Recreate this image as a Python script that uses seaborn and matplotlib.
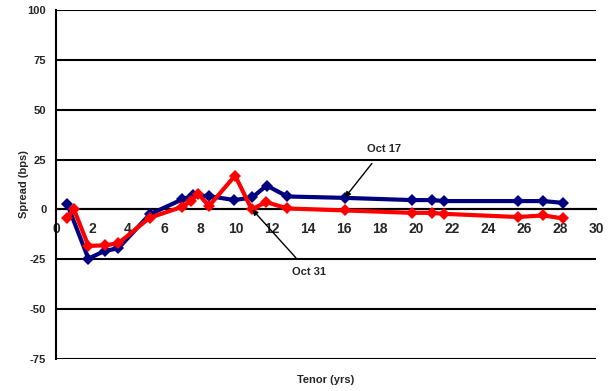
import matplotlib
matplotlib.use("Agg")
import matplotlib.pyplot as plt
import seaborn as sns
import pandas as pd

# Tenor (yrs) and spread (bps) for each curve date
oct17_tenor = [0.63, 1.8, 2.7, 3.46, 5.2, 7.0, 7.6, 8.5, 9.9, 10.9, 11.7, 12.85, 16.05, 19.75, 20.9, 21.55, 25.65, 27.07, 28.15]
oct17_spread = [2.5, -24.7, -20.8, -19.5, -2.5, 5.0, 7.0, 6.7, 4.7, 6.0, 12.0, 6.5, 5.8, 4.7, 4.7, 4.2, 4.2, 4.2, 3.3]

oct31_tenor = [0.63, 1.0, 1.8, 2.7, 3.46, 5.2, 7.0, 7.5, 7.9, 8.5, 9.95, 10.87, 11.67, 12.85, 16.05, 19.75, 20.9, 21.55, 25.65, 27.07, 28.15]
oct31_spread = [-4.2, 0.0, -18.3, -18.0, -17.0, -4.2, 1.3, 4.2, 7.8, 1.7, 17.0, 0.0, 3.7, 0.5, -0.5, -1.7, -1.7, -2.2, -3.8, -3.0, -4.5]

series_names = ["Oct 17", "Oct 31"]
series_colors = {"Oct 17": "#000080", "Oct 31": "#FF0000"}

x_ticks = list(range(0, 31, 2))
y_ticks = [-75, -50, -25, 0, 25, 50, 75, 100]

df = pd.concat([
    pd.DataFrame({"Tenor": oct17_tenor, "Spread": oct17_spread, "Curve": series_names[0]}),
    pd.DataFrame({"Tenor": oct31_tenor, "Spread": oct31_spread, "Curve": series_names[1]}),
], ignore_index=True)

sns.set_style("white")
plt.rcParams["font.family"] = ["Liberation Sans", "DejaVu Sans"]
plt.rcParams["font.weight"] = "bold"

fig = plt.figure(figsize=(6.12, 3.91), dpi=100)
ax = fig.add_axes([0.0915, 0.0818, 0.8825, 0.8926])

sns.lineplot(data=df, x="Tenor", y="Spread", hue="Curve", palette=series_colors,
             sort=False, marker="D", markersize=6, markeredgewidth=0,
             linewidth=3, legend=False, ax=ax, zorder=3)

ax.set_xlim(0, 30)
ax.set_ylim(-75, 100)
ax.set_yticks(y_ticks)
ax.set_xticks(x_ticks)
ax.set_yticklabels([str(v) for v in y_ticks], fontsize=8, fontweight="bold")
ax.set_xticklabels([str(v) for v in x_ticks], fontsize=8, fontweight="bold")

# horizontal gridlines at every label
for v in y_ticks:
    ax.axhline(v, color="black", linewidth=1.5, zorder=1)

# x axis crosses at zero spread
for s in ["top", "right"]:
    ax.spines[s].set_visible(False)
ax.spines["left"].set_color("black")
ax.spines["left"].set_linewidth(1.5)
ax.spines["bottom"].set_position(("data", 0))
ax.spines["bottom"].set_color("black")
ax.spines["bottom"].set_linewidth(1.5)

ax.tick_params(axis="x", direction="out", length=4, width=1.2, color="black", pad=5)
ax.tick_params(axis="y", direction="out", length=4, width=1.2, color="black", pad=3)

ax.set_xlabel("Tenor (yrs)", fontsize=8, fontweight="bold", labelpad=0)
ax.xaxis.set_label_coords(0.5, -0.047)
ax.set_ylabel("Spread (bps)", fontsize=8, fontweight="bold")
ax.yaxis.set_label_coords(-0.05, 0.5)

ax.annotate("Oct 17", xy=(16.05, 6.0), xytext=(18.2, 30.5),
            fontsize=8, fontweight="bold", ha="center", va="center",
            arrowprops=dict(arrowstyle="-|>", color="black", lw=1, mutation_scale=8,
                            shrinkA=6, shrinkB=0))
ax.annotate("Oct 31", xy=(10.9, 0.0), xytext=(14.05, -31.5),
            fontsize=8, fontweight="bold", ha="center", va="center",
            arrowprops=dict(arrowstyle="-|>", color="black", lw=1, mutation_scale=8,
                            shrinkA=6, shrinkB=0))

fig.savefig("out.png", dpi=100)
